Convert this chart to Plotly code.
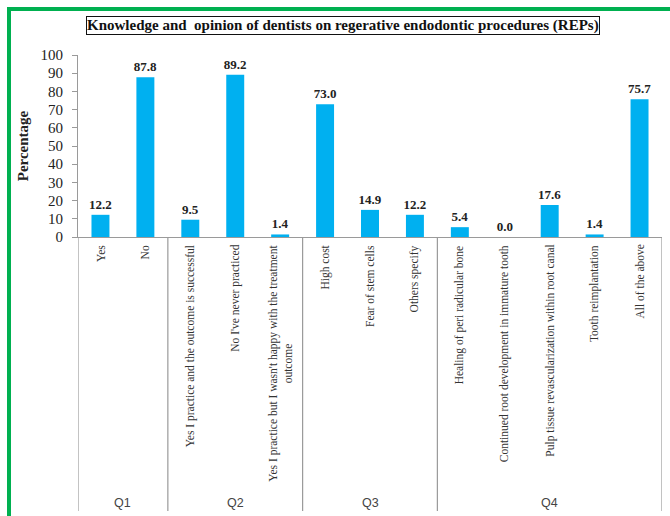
import plotly.graph_objects as go

# Survey responses, grouped by question
groups = ["Q1", "Q2", "Q3", "Q4"]
group_sizes = [2, 3, 3, 5]
categories = [
    "Yes",
    "No",
    "Yes I practice and the outcome is successful",
    "No I've never practiced",
    "Yes I practice but I wasn't happy with the treatment<br>outcome",
    "High cost",
    "Fear of stem cells",
    "Others specify",
    "Healing of peri radicular bone",
    "Continued root development in immature tooth",
    "Pulp tissue revascularization within root canal",
    "Tooth reimplantation",
    "All of the above",
]
values = [12.2, 87.8, 9.5, 89.2, 1.4, 73.0, 14.9, 12.2, 5.4, 0.0, 17.6, 1.4, 75.7]
y_ticks = list(range(0, 101, 10))

W, H = 670, 516
ML, MR, MT, MB = 78, 8, 55, 279
PW, PH = W - ML - MR, H - MT - MB

def px_x(p):
    return (p - ML) / PW

def px_y(p):
    return (H - MB - p) / PH

SERIF = "Liberation Serif, Times New Roman, serif"
idx = list(range(len(categories)))

fig = go.Figure()
fig.add_trace(go.Bar(
    x=idx,
    y=values,
    width=0.4,
    marker=dict(color="#00B0F0", line=dict(width=0)),
    text=[f"{v:.1f}" for v in values],
    textposition="outside",
    constraintext="none",
    textfont=dict(family=SERIF, size=13, color="#222222"),
    texttemplate="<b>%{text}</b>",
    cliponaxis=False,
    hoverinfo="skip",
))

shapes = []
annotations = []

# Category labels, rotated, hanging below the axis
for i, cat in enumerate(categories):
    annotations.append(dict(
        x=i, xref="x", y=px_y(243), yref="paper",
        text=cat, textangle=-90, showarrow=False,
        xanchor="center", yanchor="top", align="center",
        font=dict(family=SERIF, size=11.5, color="#333333"),
    ))

# Group separators and group labels
edges = [-0.5]
for s in group_sizes:
    edges.append(edges[-1] + s)
for e in edges:
    shapes.append(dict(
        type="line", xref="x", yref="paper",
        x0=e, x1=e, y0=0, y1=px_y(511),
        line=dict(color="#9a9a9a", width=1.2),
    ))
for g, a, b in zip(groups, edges[:-1], edges[1:]):
    annotations.append(dict(
        x=(a + b) / 2, xref="x", y=px_y(503), yref="paper",
        text=g, showarrow=False, xanchor="center", yanchor="middle",
        font=dict(family="Liberation Sans, Arial, sans-serif", size=12.5, color="#444444"),
    ))

# Title in a box
annotations.append(dict(
    x=px_x(342.5), xref="paper", y=px_y(26), yref="paper",
    text="<b>Knowledge and&nbsp; opinion of dentists on regerative endodontic procedures (REPs)</b>",
    showarrow=False, xanchor="center", yanchor="middle",
    font=dict(family=SERIF, size=15, color="#111111"),
    bordercolor="#111111", borderwidth=1, borderpad=0, bgcolor="white",
))

# Green frame on the left and top
shapes.append(dict(type="line", xref="paper", yref="paper",
                   x0=px_x(9), x1=px_x(9), y0=px_y(9), y1=px_y(520),
                   line=dict(color="#00B050", width=4)))
shapes.append(dict(type="line", xref="paper", yref="paper",
                   x0=px_x(7), x1=px_x(675), y0=px_y(9), y1=px_y(9),
                   line=dict(color="#00B050", width=4)))

fig.update_layout(
    width=W, height=H,
    margin=dict(l=ML, r=MR, t=MT, b=MB, autoexpand=False),
    paper_bgcolor="white", plot_bgcolor="white",
    showlegend=False,
    shapes=shapes,
    annotations=annotations,
    bargap=0.6,
)
fig.update_xaxes(
    range=[-0.5, len(categories) - 0.5],
    showticklabels=False, ticks="",
    showline=True, linecolor="#9a9a9a", linewidth=1.2,
    showgrid=False, zeroline=False, fixedrange=True,
)
fig.update_yaxes(
    range=[0, 100], tickvals=y_ticks,
    ticks="outside", ticklen=5, tickcolor="#9a9a9a",
    ticklabelstandoff=6,
    showline=True, linecolor="#9a9a9a", linewidth=1.2,
    showgrid=False, zeroline=False,
    tickfont=dict(family=SERIF, size=15, color="#222222"),
    title=dict(text="<b>Percentage</b>", standoff=8,
               font=dict(family=SERIF, size=15, color="#222222")),
    fixedrange=True,
)

fig.write_html("out.html")
